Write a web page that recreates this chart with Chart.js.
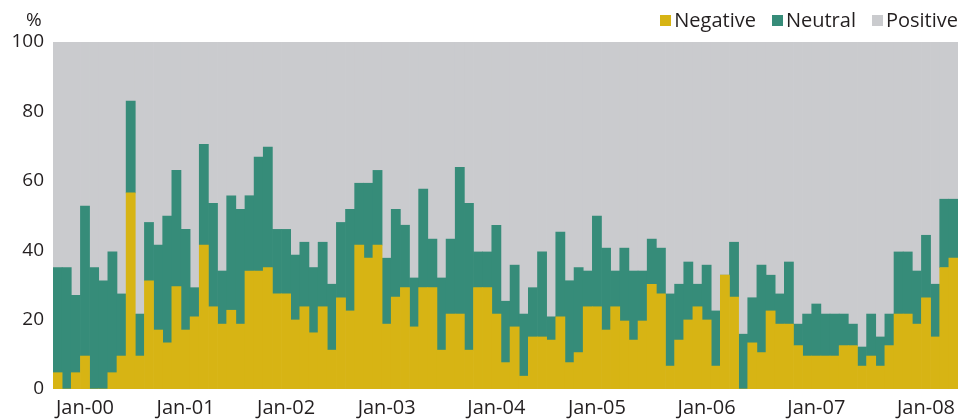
<!DOCTYPE html>
<html><head><meta charset="utf-8">
<script src="https://cdn.jsdelivr.net/npm/chart.js@4"></script>
<style>
html,body{margin:0;padding:0;background:#fff;}
#wrap{position:relative;width:976px;height:419px;overflow:hidden;}
canvas{position:absolute;left:0;top:0;}
#unit{position:absolute;left:26px;top:7px;font:19px 'Open Sans';line-height:24px;color:#231f20;}
#legend{position:absolute;right:18px;top:8px;display:flex;font:20px 'Open Sans';line-height:24px;color:#231f20;}
.item{display:flex;align-items:center;margin-left:16px}
.sw{width:11px;height:11px;margin-right:3px}
</style></head>
<body>
<div id="wrap">
<canvas id="c" width="976" height="419"></canvas>
<div id="unit">%</div>
<div id="legend"></div>
</div>
<script>
const seriesNames = ['Negative', 'Neutral', 'Positive'];
const seriesColors = ['#D7B414', '#368C79', '#CACBCE'];
const yearLabels = ['Jan-00','Jan-01','Jan-02','Jan-03','Jan-04','Jan-05','Jan-06','Jan-07','Jan-08'];
const yearStartBar = [3, 14, 25, 36, 48, 59, 71, 83, 95];
const yTicks = [0, 20, 40, 60, 80, 100];

const negative = [4.7,0,4.7,9.5,0,0,4.7,9.5,56.5,9.5,
  31.2,17,13.3,29.5,17,20.8,41.5,23.7,18.7,22.7,
  18.7,34,34,35,27.4,27.4,19.9,23.7,16.2,23.7,
  11.2,26.3,22.5,41.5,37.7,41.5,18.7,26.5,29.2,17.9,
  29.2,29.2,11.2,21.6,21.6,11.2,29.2,29.2,21.6,7.6,
  17.9,3.7,15,15,14.1,20.8,7.6,10.5,23.7,23.7,
  17,23.7,19.6,14.1,19.6,30.2,27.4,6.6,14.1,19.9,
  23.7,19.9,6.6,32.8,26.5,0,13.3,10.5,22.5,18.7,
  18.7,12.5,9.5,9.5,9.5,9.5,12.5,12.5,6.6,9.5,
  6.6,12.5,21.6,21.6,18.7,26.3,15,35,37.7];
const neutral = [30.3,35,22.3,43.2,35,31.2,34.8,17.9,26.5,12.1,
  16.8,24.5,36.5,33.5,29,8.4,29,29.8,15.3,33,
  33.1,21.7,32.8,34.7,18.6,18.6,18.7,18.6,18.8,18.6,
  19,21.7,29.3,17.8,21.6,21.5,19,25.3,18,14.1,
  28.4,14,20.8,21.6,42.3,42.3,10.3,10.3,25.6,17.7,
  17.8,17.9,14.2,24.5,6.7,24.4,23.6,24.5,10.3,26.1,
  23.6,10.3,21,19.9,14.4,13,13.2,20.8,16.1,16.7,
  6.5,15.8,15.9,0,15.8,15.8,13,25.2,10.3,8.7,
  17.9,6.2,12.1,15,12.1,12.1,9.1,6.2,5.5,12.1,
  8.4,9.1,17.9,17.9,15.3,18,15.2,19.7,17];
const positive = [65,65,73,47.3,65,68.8,60.5,72.6,17,78.4,
  52,58.5,50.2,37,54,70.8,29.5,46.5,66,44.3,
  48.2,44.3,33.2,30.3,54,54,61.4,57.7,65,57.7,
  69.8,52,48.2,40.7,40.7,37,62.3,48.2,52.8,68,
  42.4,56.8,68,56.8,36.1,46.5,60.5,60.5,52.8,74.7,
  64.3,78.4,70.8,60.5,79.2,54.8,68.8,65,66,50.2,
  59.4,66,59.4,66,66,56.8,59.4,72.6,69.8,63.4,
  69.8,64.3,77.5,67.2,57.7,84.2,73.7,64.3,67.2,72.6,
  63.4,81.3,78.4,75.5,78.4,78.4,78.4,81.3,87.9,78.4,
  85,78.4,60.5,60.5,66,55.7,69.8,45.3,45.3];

const categories = negative.map((_, i) => {
  const k = yearStartBar.indexOf(i);
  return k >= 0 ? yearLabels[k] : '';
});
const seriesValues = [negative, neutral, positive];

const chart = new Chart(document.getElementById('c'), {
  type: 'bar',
  data: {
    labels: categories,
    datasets: seriesNames.map((name, i) => ({
      label: name,
      data: seriesValues[i],
      backgroundColor: seriesColors[i],
      borderWidth: 0,
      barPercentage: 1,
      categoryPercentage: 1
    }))
  },
  options: {
    responsive: false,
    animation: false,
    layout: {padding: {top: 42, right: 18, bottom: 0, left: 0}},
    plugins: {legend: {display: false}, tooltip: {enabled: false}},
    scales: {
      x: {
        stacked: true,
        afterFit: s => { s.height = 30; },
        grid: {display: false, drawTicks: false},
        border: {display: false},
        ticks: {autoSkip: false, maxRotation: 0, minRotation: 0, padding: 7,
                font: {family: "'Open Sans'", size: 20}, color: '#231f20'}
      },
      y: {
        stacked: true,
        min: 0, max: 100,
        afterBuildTicks: s => { s.ticks = yTicks.map(v => ({value: v})); },
        afterFit: s => { s.width = 53; },
        grid: {display: false, drawTicks: false},
        border: {display: false},
        ticks: {padding: 9, font: {family: "'Open Sans'", size: 19}, color: '#231f20'}
      }
    }
  }
});

const leg = document.getElementById('legend');
chart.data.datasets.forEach(ds => {
  const it = document.createElement('div'); it.className = 'item';
  const sw = document.createElement('span'); sw.className = 'sw'; sw.style.background = ds.backgroundColor;
  const tx = document.createElement('span'); tx.textContent = ds.label;
  it.appendChild(sw); it.appendChild(tx); leg.appendChild(it);
});
</script>
</body></html>
